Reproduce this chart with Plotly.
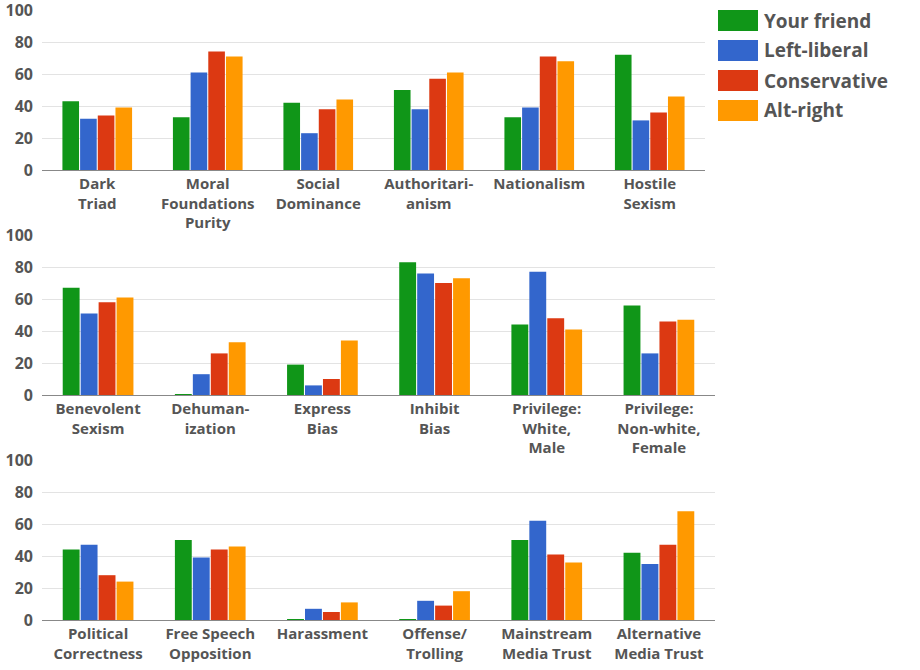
import plotly.graph_objects as go

series = ["Your friend", "Left-liberal", "Conservative", "Alt-right"]
colors = ["#109618", "#3366cc", "#dc3912", "#ff9900"]

cats1 = ["Dark<br>Triad", "Moral<br>Foundations<br>Purity", "Social<br>Dominance",
         "Authoritari-<br>anism", "Nationalism", "Hostile<br>Sexism"]
cats2 = ["Benevolent<br>Sexism", "Dehuman-<br>ization", "Express<br>Bias",
         "Inhibit<br>Bias", "Privilege:<br>White,<br>Male", "Privilege:<br>Non-white,<br>Female"]
cats3 = ["Political<br>Correctness", "Free Speech<br>Opposition", "Harassment",
         "Offense/<br>Trolling", "Mainstream<br>Media Trust", "Alternative<br>Media Trust"]

friend1 = [43, 33, 42, 50, 33, 72]
left1 = [32, 61, 23, 38, 39, 31]
cons1 = [34, 74, 38, 57, 71, 36]
alt1 = [39, 71, 44, 61, 68, 46]

friend2 = [67, 0.5, 19, 83, 44, 56]
left2 = [51, 13, 6, 76, 77, 26]
cons2 = [58, 26, 10, 70, 48, 46]
alt2 = [61, 33, 34, 73, 41, 47]

friend3 = [44, 50, 0.5, 0.5, 50, 42]
left3 = [47, 39, 7, 12, 62, 35]
cons3 = [28, 44, 5, 9, 41, 47]
alt3 = [24, 46, 11, 18, 36, 68]

yticks = [0, 20, 40, 60, 80, 100]

panels = [
    (cats1, [friend1, left1, cons1, alt1]),
    (cats2, [friend2, left2, cons2, alt2]),
    (cats3, [friend3, left3, cons3, alt3]),
]

W, H = 920, 670
ML, MR, MT, MB = 42, 205, 10, 50
pw = W - ML - MR
ph = H - MT - MB

def fx(px):
    return (px - ML) / pw

def fy(py):
    return (H - MB - py) / ph

# panel pixel boxes (top, bottom, right)
boxes = [(10, 170, 705), (235, 395, 715), (460, 620, 715)]

TXT = "#555555"
FONT = "Open Sans"

fig = go.Figure()
layout = dict(
    width=W, height=H, autosize=False,
    margin=dict(l=ML, r=MR, t=MT, b=MB, pad=0, autoexpand=False),
    plot_bgcolor="white", paper_bgcolor="white",
    barmode="group", bargap=0.36, bargroupgap=0.06,
    showlegend=False,
    font=dict(family=FONT, color=TXT, size=14, weight="bold"),
    hovermode=False,
)

for i, (cats, vals) in enumerate(panels):
    n = i + 1
    xa = "x" if n == 1 else f"x{n}"
    ya = "y" if n == 1 else f"y{n}"
    for s, c, v in zip(series, colors, vals):
        fig.add_trace(go.Bar(x=cats, y=v, name=s, marker=dict(color=c, line=dict(width=0)),
                             xaxis=xa, yaxis=ya))
    top, bot, right = boxes[i]
    layout["xaxis" if n == 1 else f"xaxis{n}"] = dict(
        domain=[0, fx(right)], anchor=ya, automargin=False,
        showgrid=False, showline=True, linecolor="#888888", linewidth=1,
        ticks="", tickfont=dict(family=FONT, size=15, color=TXT, weight="bold"),
        ticklabelstandoff=0, ticklabeloverflow="allow", fixedrange=True,
    )
    layout["yaxis" if n == 1 else f"yaxis{n}"] = dict(
        domain=[fy(bot), fy(top)], anchor=xa, range=[0, 100], automargin=False,
        tickvals=yticks, showgrid=True, gridcolor="#e3e3e3", gridwidth=1,
        zeroline=False, showline=False, ticks="",
        tickfont=dict(family=FONT, size=16, color=TXT, weight="bold"),
        ticklabelstandoff=8, ticklabeloverflow="allow", fixedrange=True,
    )

shapes = []
annotations = []
for k, (s, c) in enumerate(zip(series, colors)):
    y0 = 10 + 30 * k
    shapes.append(dict(type="rect", xref="paper", yref="paper",
                       x0=fx(718), x1=fx(758), y0=fy(y0 + 21), y1=fy(y0),
                       fillcolor=c, line=dict(width=0)))
    annotations.append(dict(xref="paper", yref="paper", x=fx(762), y=fy(y0 + 10.5),
                            xanchor="left", yanchor="middle", text=s, showarrow=False,
                            font=dict(family=FONT, size=19, color=TXT, weight="bold")))
layout["shapes"] = shapes
layout["annotations"] = annotations

fig.update_layout(**layout)
fig.write_html("out.html", config={"displayModeBar": False},
               post_script="document.body.style.margin='0px';")
